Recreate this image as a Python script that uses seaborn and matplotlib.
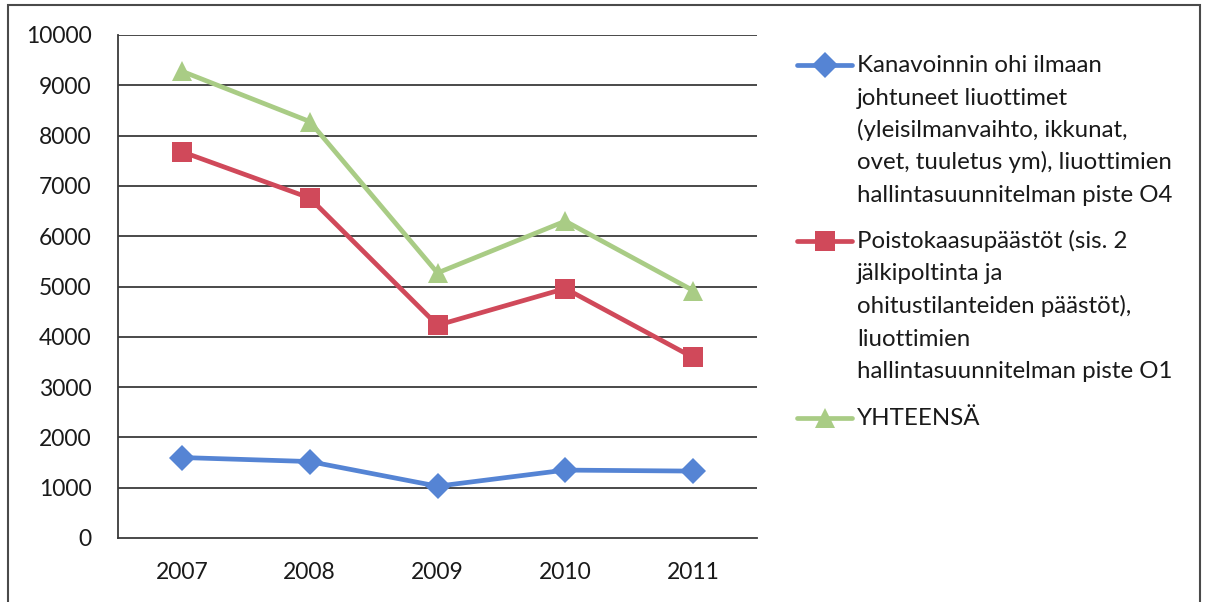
import matplotlib
matplotlib.use("Agg")
import matplotlib.pyplot as plt
from matplotlib.lines import Line2D
from matplotlib.patches import Rectangle
import pandas as pd
import seaborn as sns

# Solvent emissions per year (kg)
years = ["2007", "2008", "2009", "2010", "2011"]
kanavoinnin_ohi = [1600, 1520, 1030, 1350, 1330]
poistokaasu = [7680, 6760, 4230, 4960, 3590]
yhteensa = [9280, 8280, 5270, 6300, 4920]

labels = [
    "Kanavoinnin ohi ilmaan\njohtuneet liuottimet\n(yleisilmanvaihto, ikkunat,\novet, tuuletus ym), liuottimien\nhallintasuunnitelman piste O4",
    "Poistokaasupäästöt (sis. 2\njälkipoltinta ja\nohitustilanteiden päästöt),\nliuottimien\nhallintasuunnitelman piste O1",
    "YHTEENSÄ",
]
y_ticks = [0, 1000, 2000, 3000, 4000, 5000, 6000, 7000, 8000, 9000, 10000]

W, H = 1207, 602
sns.set_theme(style="white")
plt.rcParams["font.family"] = ["Lato", "DejaVu Sans"]
FS = 16.5
FS_LEG = 17.3
TXT = "#1a1a1a"
GRID = "#3a3a3a"

fig = plt.figure(figsize=(W / 100, H / 100), dpi=100)
fig.patch.set_facecolor("white")


def px(x, y):
    return x / W, 1 - y / H


ax_l, ax_r, ax_t, ax_b = 118, 757, 35, 538
ax = fig.add_axes([ax_l / W, 1 - ax_b / H, (ax_r - ax_l) / W, (ax_b - ax_t) / H])

series = [
    (kanavoinnin_ohi, "#5584d4", "D", 13),
    (poistokaasu, "#d0495a", "s", 14),
    (yhteensa, "#a9cc85", "^", 15),
]
for (vals, col, mk, ms), lab in zip(series, labels):
    df = pd.DataFrame({"vuosi": years, "arvo": vals})
    sns.lineplot(data=df, x="vuosi", y="arvo", ax=ax, color=col, linewidth=3.4,
                 marker=mk, markersize=ms, markeredgewidth=0, markerfacecolor=col,
                 sort=False, label=lab, legend=False)

ax.set_xlim(-0.5, len(years) - 0.5)
ax.set_ylim(0, 10000)
ax.set_yticks(y_ticks)
ax.set_yticklabels([str(v) for v in y_ticks])
ax.set_xlabel("")
ax.set_ylabel("")
ax.grid(False)
for v in y_ticks[1:]:
    ax.axhline(v, color=GRID, lw=1.3, zorder=0.5)

for s in ["top", "right"]:
    ax.spines[s].set_visible(False)
for s in ["left", "bottom"]:
    ax.spines[s].set_color(GRID)
    ax.spines[s].set_linewidth(1.3)

ax.set_xticks(range(len(years)))
ax.set_xticklabels(years)
ax.set_xticks([i - 0.5 for i in range(len(years) + 1)], minor=True)
ax.tick_params(axis="x", which="major", length=0, pad=17, labelsize=FS, labelcolor=TXT)
ax.tick_params(axis="x", which="minor", length=6, width=1.3, color=GRID, direction="out")
ax.tick_params(axis="y", which="major", length=6, width=1.3, color=GRID, direction="out",
               pad=13, labelsize=FS, labelcolor=TXT)

# Legend entries drawn beside the plot, one text line per row
handle_x0, handle_x1, text_x = 797, 852, 857
first_baselines = [72, 248, 425]
row_gap = 32.5
for line, lab, base in zip(ax.get_lines(), labels, first_baselines):
    hy = base - 7.5
    xa, ya = px(handle_x0, hy)
    xb, _ = px(handle_x1, hy)
    xm = (xa + xb) / 2
    fig.add_artist(Line2D([xa, xb], [ya, ya], color=line.get_color(), lw=3.4,
                          transform=fig.transFigure))
    fig.add_artist(Line2D([xm], [ya], color=line.get_color(), marker=line.get_marker(),
                          markersize=line.get_markersize(), markeredgewidth=0,
                          transform=fig.transFigure))
    for i, row in enumerate(lab.split("\n")):
        tx, ty = px(text_x, base + i * row_gap)
        fig.text(tx, ty, row, fontsize=FS_LEG, color=TXT, va="baseline", ha="left")

# Chart frame (runs past the lower edge of the figure)
fx0, fy0 = px(8, 640)
fx1, fy1 = px(1200, 5)
fig.add_artist(Rectangle((fx0, fy0), fx1 - fx0, fy1 - fy0, transform=fig.transFigure,
                         fill=False, edgecolor="#4a4a4a", lw=1.5, clip_on=False))

fig.savefig("out.png", dpi=100, facecolor="white")
